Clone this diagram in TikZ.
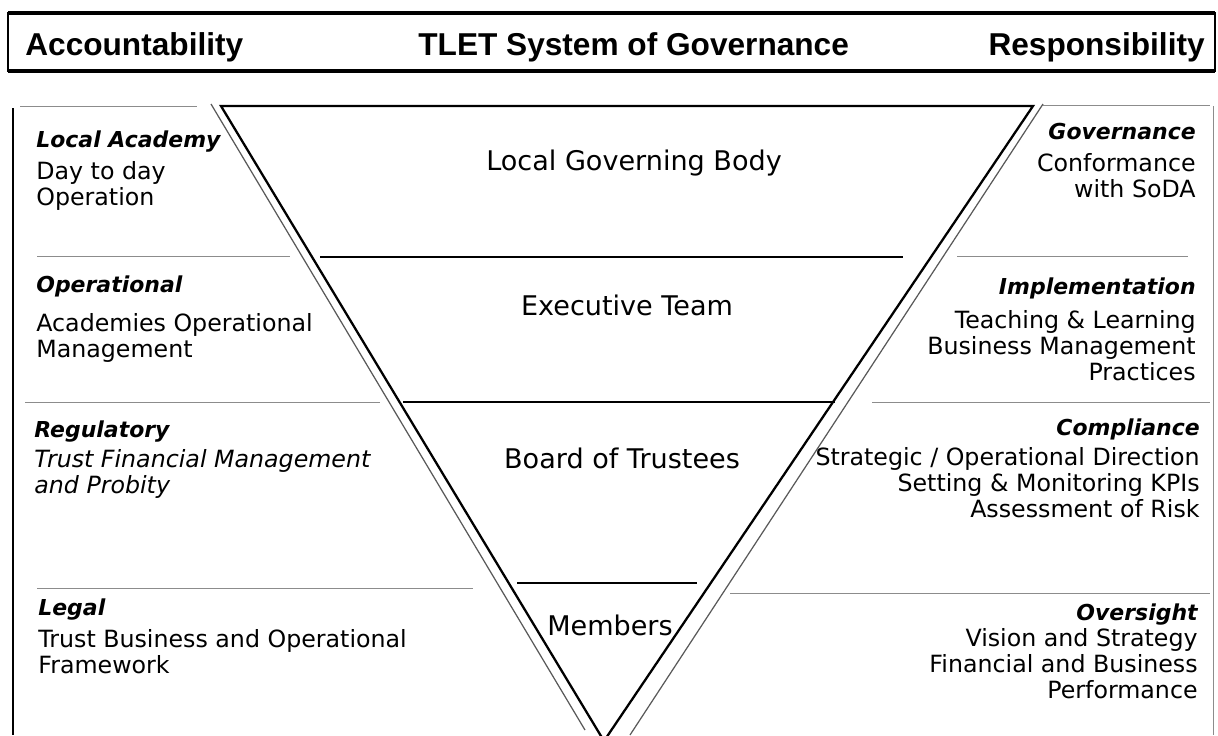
\documentclass[tikz,border=0pt]{standalone}
\usepackage{fontspec}
\setmainfont{DejaVu Sans}
\newfontfamily\titlefont{Liberation Sans}
\usepackage{xcolor}

\definecolor{rulegray}{gray}{0.55}
\newcommand{\hd}[1]{{\fontsize{12.5}{14.7}\selectfont\bfseries\itshape #1}}

\tikzset{
	title/.style={inner sep=0pt, font=\titlefont\bfseries\fontsize{18}{22}\selectfont},
	tier/.style={anchor=base, inner sep=0pt, font=\fontsize{15.4}{18}\selectfont},
	% blocks sit on the baseline of their last line
	lblock/.style={anchor=base west, align=left, inner sep=0pt, font=\fontsize{13.5}{14.7}\selectfont},
	rblock/.style={anchor=base east, align=right, inner sep=0pt, font=\fontsize{13.5}{14.7}\selectfont},
	rule/.style={rulegray, line width=0.5pt},
	tierline/.style={black, line width=1.1pt},
}

\begin{document}
\begin{tikzpicture}[x=0.02cm, y=-0.02cm]
			\useasboundingbox (0,0) rectangle (1218,735);

			% heading bar
			\begin{scope}
				\draw[line width=1.1pt] (8,13) rectangle (1215,71);
				\draw[line width=1.8pt] (8,13) -- (1215,13) (8,71) -- (1215,71);
				\node[title, anchor=base west] (acc) at (25,55) {Accountability};
				\node[title, anchor=base west] (sys) at (418,55) {TLET System of Governance};
				\node[title, anchor=base east] (resp) at (1205,55) {Responsibility};
			\end{scope}

			% frame and side rules
			\draw[line width=1pt] (13,108) -- (13,735);
			\draw[rule] (1213,106) -- (1213,735);
			\draw[rule] (20,106) -- (197,106) (37,256) -- (290,256) (25,402) -- (380,402) (37,588) -- (473,588);
			\draw[rule] (1043,105) -- (1210,105) (957,256) -- (1188,256) (872,402) -- (1210,402) (730,593) -- (1210,593);

			% inverted triangle
			\coordinate (tl) at (221,106);
			\coordinate (tr) at (1033,106);
			\coordinate (apex) at (604,741);
			\draw[line width=1.3pt] (apex) -- (tl) -- (tr) -- cycle;
			\draw[line width=0.7pt, black!65] (211,104) -- (585,730);
			\draw[line width=0.7pt, black!65] (1043,104) -- (630,735);
			\draw[tierline] (320,257) -- (903,257);
			\draw[tierline] (403,402) -- (835,402);
			\draw[tierline] (517,583) -- (697,583);

			\node[tier] (lgb) at (634,170) {Local Governing Body};
			\node[tier] (exec) at (627,315) {Executive Team};
			\node[tier] (bot) at (622,468) {Board of Trustees};
			\node[tier] (mem) at (610,635) {Members};

			% accountability column
			\node[lblock] (acad) at (36,205) {\hd{Local Academy}\\[3.4pt] Day to day\\ Operation};
			\node[lblock] (oper) at (36,357) {\hd{Operational}\\[7.4pt] Academies Operational\\ Management};
			\node[lblock] (regu) at (34,493) {\hd{Regulatory}\\[2.3pt] \itshape Trust Financial Management\\ \itshape and Probity};
			\node[lblock] (legal) at (38,673) {\hd{Legal}\\[3.4pt] Trust Business and Operational\\ Framework};

			% responsibility column
			\node[rblock] (gov) at (1196,197) {\hd{Governance}\\[3.4pt] Conformance\\ with SoDA};
			\node[rblock] (impl) at (1196,380) {\hd{Implementation}\\[4.5pt] Teaching \& Learning\\ Business Management\\ Practices};
			\node[rblock] (comp) at (1200,517) {\hd{Compliance}\\[2.3pt] Strategic / Operational Direction\\ Setting \& Monitoring KPIs\\ Assessment of Risk};
			\node[rblock] (over) at (1198,698) {\hd{Oversight}\\ Vision and Strategy\\ Financial and Business\\ Performance};
		\end{tikzpicture}
\end{document}
